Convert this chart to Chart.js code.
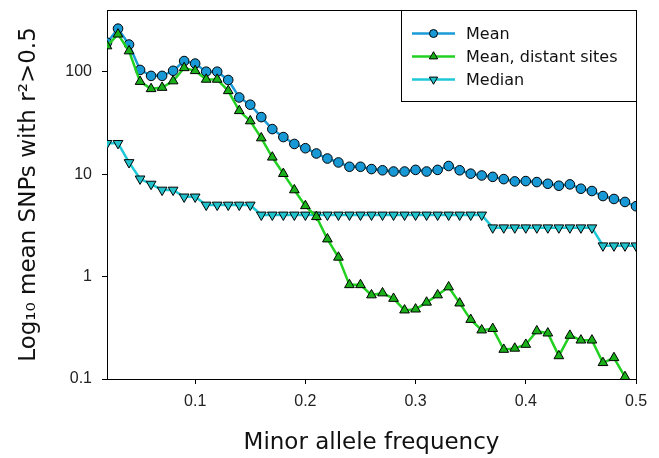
<!DOCTYPE html>
<html>
<head>
<meta charset="utf-8">
<script src="https://cdn.jsdelivr.net/npm/chart.js@4/dist/chart.umd.min.js"></script>
<style>
  html, body { margin: 0; padding: 0; background: #fff; }
  #chart { display: block; }
</style>
</head>
<body>
<canvas id="chart" width="659" height="458"></canvas>
<script>
// Minor allele frequency bins
const maf = [0.02, 0.03, 0.04, 0.05, 0.06, 0.07, 0.08, 0.09, 0.10, 0.11,
  0.12, 0.13, 0.14, 0.15, 0.16, 0.17, 0.18, 0.19, 0.20, 0.21,
  0.22, 0.23, 0.24, 0.25, 0.26, 0.27, 0.28, 0.29, 0.30, 0.31,
  0.32, 0.33, 0.34, 0.35, 0.36, 0.37, 0.38, 0.39, 0.40, 0.41,
  0.42, 0.43, 0.44, 0.45, 0.46, 0.47, 0.48, 0.49, 0.50];

const meanValues = [192, 263, 184, 104, 91, 91, 102, 127, 120, 100,
  100, 83, 56, 47.6, 36, 27.5, 23, 19.7, 17.9, 15.9,
  14.2, 13.0, 11.8, 11.8, 11.2, 10.9, 10.6, 10.6, 11.0, 10.6,
  11.0, 12.0, 10.9, 10.1, 9.7, 9.4, 8.94, 8.49, 8.55, 8.36,
  8.05, 7.7, 7.94, 7.2, 6.84, 6.11, 5.72, 5.35, 4.86];

const distantValues = [178, 232, 159, 80, 68, 70, 81, 109, 102, 84,
  84, 65, 41.5, 33, 22.5, 14.6, 10.1, 7.0, 4.9, 3.83,
  2.32, 1.54, 0.83, 0.83, 0.66, 0.69, 0.61, 0.47, 0.48, 0.56,
  0.66, 0.79, 0.55, 0.38, 0.30, 0.31, 0.194, 0.199, 0.217, 0.294,
  0.28, 0.168, 0.266, 0.239, 0.239, 0.144, 0.161, 0.105, null];

const medianValues = [20, 20, 13, 9, 8, 7, 7, 6, 6, 5,
  5, 5, 5, 5, 4, 4, 4, 4, 4, 4,
  4, 4, 4, 4, 4, 4, 4, 4, 4, 4,
  4, 4, 4, 4, 4, 3, 3, 3, 3, 3,
  3, 3, 3, 3, 3, 2, 2, 2, 2];

const xTicks = [0.1, 0.2, 0.3, 0.4, 0.5];
const yTicks = [0.1, 1, 10, 100];

const seriesNames = ['Mean', 'Mean, distant sites', 'Median'];

function toPoints(values) {
  return maf.map((x, i) => ({ x: x, y: values[i] }));
}

// black frame around the plot area
const frame = {
  id: 'frame',
  beforeDatasetsDraw(chart) {
    const a = chart.chartArea;
    const ctx = chart.ctx;
    ctx.save();
    ctx.strokeStyle = '#000';
    ctx.lineWidth = 1;
    ctx.strokeRect(Math.round(a.left) + 0.5, Math.round(a.top) + 0.5,
      Math.round(a.right - a.left), Math.round(a.bottom - a.top));
    ctx.restore();
  }
};

// boxed legend in the top right corner, line + marker samples
const boxLegend = {
  id: 'boxLegend',
  afterDatasetsDraw(chart) {
    const a = chart.chartArea;
    const ctx = chart.ctx;
    const right = Math.round(a.right) + 0.5;
    const top = Math.round(a.top) + 0.5;
    const left = 401.5;
    const bottom = 101.5;
    ctx.save();
    ctx.fillStyle = '#fff';
    ctx.fillRect(left, top, right - left, bottom - top);
    ctx.strokeStyle = '#000';
    ctx.lineWidth = 1;
    ctx.strokeRect(left, top, right - left, bottom - top);
    const rows = [33.5, 56.5, 79.5];
    chart.data.datasets.forEach((ds, i) => {
      const y = rows[i];
      ctx.strokeStyle = ds.borderColor;
      ctx.lineWidth = ds.borderWidth;
      ctx.beginPath();
      ctx.moveTo(412, y);
      ctx.lineTo(455, y);
      ctx.stroke();
      ctx.fillStyle = ds.pointBackgroundColor;
      ctx.strokeStyle = '#000';
      ctx.lineWidth = 1;
      Chart.helpers.drawPoint(ctx, {
        pointStyle: ds.pointStyle,
        radius: ds.pointRadius - 0.8,
        rotation: ds.pointRotation || 0,
        borderWidth: 1
      }, 433.5, y);
      ctx.fillStyle = '#111';
      ctx.font = '16px "DejaVu Sans"';
      ctx.textAlign = 'left';
      ctx.textBaseline = 'middle';
      ctx.fillText(ds.label, 466, y + 1);
    });
    ctx.restore();
  }
};

new Chart(document.getElementById('chart'), {
  type: 'line',
  data: {
    datasets: [{
      label: seriesNames[0],
      data: toPoints(meanValues),
      borderColor: '#1a9bd7',
      borderWidth: 2.5,
      pointStyle: 'circle',
      pointRadius: 4.8,
      pointBackgroundColor: '#1898d4',
      pointBorderColor: '#000',
      pointBorderWidth: 1,
      tension: 0,
      order: 1
    }, {
      label: seriesNames[1],
      data: toPoints(distantValues),
      borderColor: '#22d022',
      borderWidth: 2.5,
      pointStyle: 'triangle',
      pointRadius: 5.6,
      pointBackgroundColor: '#19b019',
      pointBorderColor: '#000',
      pointBorderWidth: 1,
      tension: 0,
      spanGaps: false,
      order: 0
    }, {
      label: seriesNames[2],
      data: toPoints(medianValues),
      borderColor: '#1ec8d6',
      borderWidth: 2.5,
      pointStyle: 'triangle',
      pointRotation: 180,
      pointRadius: 5.6,
      pointBackgroundColor: '#22c2cc',
      pointBorderColor: '#000',
      pointBorderWidth: 1,
      tension: 0,
      order: 2
    }]
  },
  options: {
    responsive: false,
    animation: false,
    devicePixelRatio: 1,
    layout: {
      padding: { top: 10, right: 23, left: 0, bottom: 0 }
    },
    plugins: {
      legend: { display: false },
      tooltip: { enabled: false }
    },
    scales: {
      x: {
        type: 'linear',
        min: 0.02,
        max: 0.5,
        afterBuildTicks: (scale) => {
          scale.ticks = xTicks.map(v => ({ value: v }));
        },
        afterFit: (scale) => {
          scale.height = 79;
          scale.paddingLeft = 0;
          scale.paddingRight = 0;
        },
        grid: {
          display: true,
          drawOnChartArea: false,
          drawTicks: true,
          tickLength: 5,
          tickColor: '#000'
        },
        border: { display: true, color: '#000', width: 1 },
        ticks: {
          padding: 8,
          color: '#222',
          font: { family: '"Liberation Sans", Arial', size: 16 },
          maxRotation: 0,
          callback: (value) => value.toFixed(1)
        },
        title: {
          display: true,
          text: 'Minor allele frequency',
          color: '#111',
          font: { family: '"DejaVu Sans"', size: 23 },
          padding: { top: 4, bottom: 1 }
        }
      },
      y: {
        type: 'logarithmic',
        min: 0.1,
        max: 400,
        afterBuildTicks: (scale) => {
          scale.ticks = yTicks.map(v => ({ value: v }));
        },
        afterFit: (scale) => {
          scale.width = 107;
          scale.paddingTop = 0;
          scale.paddingBottom = 0;
        },
        grid: {
          display: true,
          drawOnChartArea: false,
          drawTicks: true,
          tickLength: 5,
          tickColor: '#000'
        },
        border: { display: true, color: '#000', width: 1 },
        ticks: {
          padding: 10,
          color: '#222',
          font: { family: '"Liberation Sans", Arial', size: 16 },
          callback: (value) => String(value)
        },
        title: {
          display: true,
          text: 'Log\u2081\u2080 mean SNPs with r\u00b2>0.5',
          color: '#111',
          font: { family: '"DejaVu Sans"', size: 23 },
          padding: { top: 15, bottom: 0 }
        }
      }
    }
  },
  plugins: [frame, boxLegend]
});
</script>
</body>
</html>
